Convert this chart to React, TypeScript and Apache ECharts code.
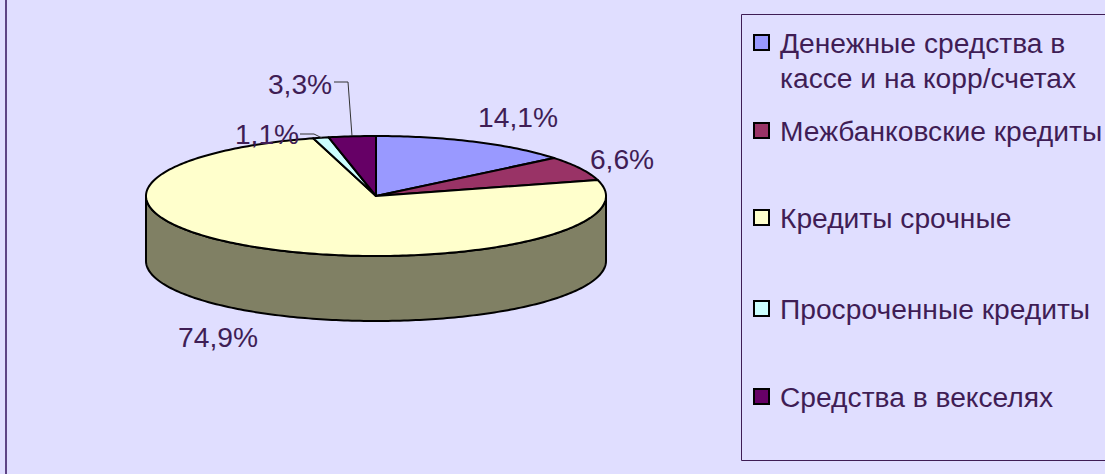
import React, { useEffect, useRef } from "react";
import * as echarts from "echarts";

const categories = [
  "Денежные средства в\nкассе и на корр/счетах",
  "Межбанковские кредиты",
  "Кредиты срочные",
  "Просроченные кредиты",
  "Средства в векселях",
];
const values = [14.1, 6.6, 74.9, 1.1, 3.3];
const colors = ["#9999FF", "#993366", "#FFFFCC", "#CCFFFF", "#660066"];

const BG = "#E0DEFF";
const INK = "#3F1D55";
const FONT = '28.2px "Liberation Sans", Arial, sans-serif';
const CX = 376, CY = 196, RX = 230, RY = 60, DEPTH = 65;
const WALL = "#808064";

const labelAnchors: [number, number][] = [
  [518, 117], [622, 159], [218, 337], [267, 134], [300, 84],
];
const leaders: ([number, number][] | null)[] = [
  null, null, null,
  [[300, 134], [314, 134], [322, 138]],
  [[334, 82], [348, 82], [352, 136]],
];
const legendRows = [43, 131, 218, 309, 397];

const pt = (deg: number, dy = 0): number[] => {
  const a = (deg * Math.PI) / 180;
  return [CX + RX * Math.sin(a), CY - RY * Math.cos(a) + dy];
};

const arc = (from: number, to: number, dy = 0) => {
  const out: number[][] = [];
  const n = Math.max(2, Math.ceil(to - from));
  for (let i = 0; i <= n; i++) out.push(pt(from + ((to - from) * i) / n, dy));
  return out;
};

const renderItem = (params: any, api: any) => {
  const i = params.dataIndex;
  const total = values.reduce((s, v) => s + v, 0);
  const before = values.slice(0, i).reduce((s, v) => s + v, 0);
  const start = (before / total) * 360;
  const end = start + (api.value(0) / total) * 360;
  const children: any[] = [];
  const wFrom = Math.max(start, 90);
  const wTo = Math.min(end, 270);
  if (wTo > wFrom) {
    children.push({
      type: "polygon",
      shape: { points: [...arc(wFrom, wTo), ...arc(wFrom, wTo, DEPTH).reverse()] },
      style: { fill: WALL, stroke: "#000", lineWidth: 2, lineJoin: "round" },
    });
  }
  children.push({
    type: "polygon",
    shape: { points: [[CX, CY], ...arc(start, end)] },
    style: { fill: colors[i], stroke: "#000", lineWidth: 2, lineJoin: "round" },
  });
  const leader = leaders[i];
  if (leader) {
    children.push({
      type: "polyline",
      shape: { points: leader },
      style: { fill: "none", stroke: "#333", lineWidth: 1 },
    });
  }
  const [lx, ly] = labelAnchors[i];
  children.push({
    type: "text",
    style: {
      text: api.value(0).toFixed(1).replace(".", ",") + "%",
      x: lx,
      y: ly,
      fill: INK,
      font: FONT,
      align: "center",
      verticalAlign: "middle",
    },
  });
  return { type: "group", children };
};

const legendGraphics = () => {
  const out: any[] = [
    { type: "rect", shape: { x: 5, y: 0, width: 2, height: 474 }, style: { fill: "#5E4585" } },
    {
      type: "rect",
      shape: { x: 741.5, y: 14.5, width: 400, height: 446 },
      style: { fill: "none", stroke: INK, lineWidth: 1 },
    },
  ];
  categories.forEach((name, i) => {
    const y = legendRows[i];
    out.push({
      type: "rect",
      shape: { x: 754, y: y - 8, width: 15, height: 15 },
      style: { fill: colors[i], stroke: "#000", lineWidth: 2 },
    });
    name.split("\n").forEach((line, k) => {
      out.push({
        type: "text",
        style: {
          text: line,
          x: 780,
          y: y + k * 34.5,
          fill: INK,
          font: FONT,
          align: "left",
          verticalAlign: "middle",
        },
      });
    });
  });
  return out;
};

export default function App() {
  const ref = useRef<HTMLDivElement>(null);
  useEffect(() => {
    const chart = echarts.init(ref.current!, undefined, { renderer: "svg" });
    chart.setOption({
      animation: false,
      backgroundColor: BG,
      tooltip: { show: false },
      graphic: { elements: legendGraphics() },
      series: [
        {
          type: "custom",
          coordinateSystem: "none",
          silent: true,
          data: values.map((v, i) => ({ name: categories[i], value: [v] })),
          renderItem,
        },
      ],
    });
    return () => chart.dispose();
  }, []);
  return <div ref={ref} style={{ position: "absolute", left: 0, top: 0, width: 1105, height: 474 }} />;
}
